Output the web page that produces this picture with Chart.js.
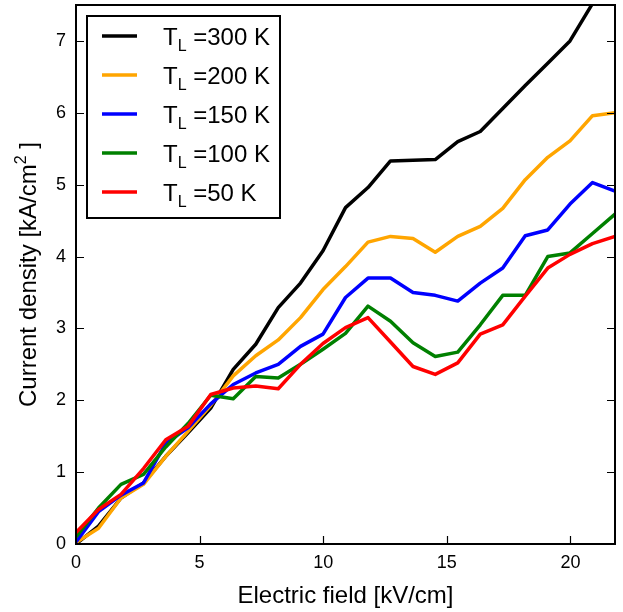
<!DOCTYPE html>
<html>
<head>
<meta charset="utf-8">
<script src="https://cdn.jsdelivr.net/npm/chart.js@4.4.0/dist/chart.umd.min.js"></script>
<style>
  html, body { margin: 0; padding: 0; background: #fff; }
  canvas { display: block; }
</style>
</head>
<body>
<canvas id="jeChart" width="623" height="612"></canvas>
<script>
// electric field [kV/cm]
const fields = [0, 0.91, 1.82, 2.73, 3.63, 4.54, 5.45, 6.36, 7.27, 8.18, 9.08, 9.99, 10.9,
  11.81, 12.72, 13.63, 14.53, 15.44, 16.35, 17.26, 18.17, 19.08, 19.98, 20.89, 21.8];

// lattice temperatures, one curve each
const temps = ['300', '200', '150', '100', '50'];

// current density [kA/cm2]
const j300 = [0, 0.25, 0.64, 0.85, 1.22, 1.55, 1.89, 2.43, 2.78, 3.29, 3.63, 4.08, 4.68,
  4.96, 5.33, 5.34, 5.35, 5.60, 5.74, 6.06, 6.38, 6.69, 7.0, 7.52, 8.1];
const j200 = [0.02, 0.22, 0.64, 0.83, 1.22, 1.57, 1.93, 2.34, 2.62, 2.84, 3.15, 3.54, 3.86,
  4.20, 4.28, 4.25, 4.06, 4.28, 4.42, 4.67, 5.07, 5.38, 5.61, 5.96, 6.0];
const j150 = [0.03, 0.45, 0.68, 0.85, 1.40, 1.62, 1.95, 2.22, 2.38, 2.50, 2.75, 2.92, 3.43,
  3.70, 3.70, 3.50, 3.46, 3.38, 3.63, 3.84, 4.29, 4.37, 4.73, 5.03, 4.91];
const j100 = [0.10, 0.50, 0.83, 0.97, 1.35, 1.68, 2.07, 2.02, 2.33, 2.31, 2.50, 2.71, 2.93,
  3.31, 3.10, 2.80, 2.61, 2.67, 3.05, 3.46, 3.46, 4.0, 4.05, 4.32, 4.59];
const j50 = [0.16, 0.48, 0.69, 1.05, 1.45, 1.64, 2.08, 2.17, 2.20, 2.16, 2.50, 2.79, 3.01,
  3.15, 2.81, 2.47, 2.36, 2.52, 2.92, 3.05, 3.45, 3.84, 4.03, 4.18, 4.28];

const xTicks = [0, 5, 10, 15, 20];
const yTicks = [0, 1, 2, 3, 4, 5, 6, 7];

const series = [j300, j200, j150, j100, j50];
const colors = ['#000000', '#ffa500', '#0000ff', '#008000', '#ff0000'];

const FONT = '"Liberation Sans", Arial, sans-serif';

// frame, inward ticks, legend with subscripts and axis titles
const decorPlugin = {
  id: 'decor',
  afterDraw(chart) {
    const { ctx, chartArea: a, scales: { x, y } } = chart;
    ctx.save();

    ctx.strokeStyle = '#000';
    ctx.lineWidth = 1.2;
    ctx.beginPath();
    x.ticks.forEach((t) => {
      const px = Math.round(x.getPixelForValue(t.value)) + 0.5;
      if (px <= a.left + 2) return;
      ctx.moveTo(px, a.bottom);
      ctx.lineTo(px, a.bottom - 8);
    });
    y.ticks.forEach((t) => {
      const py = Math.round(y.getPixelForValue(t.value)) + 0.5;
      if (py >= a.bottom - 2) return;
      ctx.moveTo(a.left, py);
      ctx.lineTo(a.left + 8, py);
      ctx.moveTo(a.right, py);
      ctx.lineTo(a.right - 8, py);
    });
    ctx.stroke();

    ctx.lineWidth = 2;
    ctx.strokeRect(a.left, a.top, a.right - a.left, a.bottom - a.top);

    // legend
    const lx = a.left + 11;
    const ly = a.top + 11;
    ctx.fillStyle = '#fff';
    ctx.fillRect(lx, ly, 193, 202);
    ctx.lineWidth = 2;
    ctx.strokeStyle = '#000';
    ctx.strokeRect(lx, ly, 193, 202);

    temps.forEach((temp, i) => {
      const ry = ly + 20 + i * 39;
      ctx.strokeStyle = colors[i];
      ctx.lineWidth = 3.5;
      ctx.beginPath();
      ctx.moveTo(lx + 15, ry);
      ctx.lineTo(lx + 50, ry);
      ctx.stroke();

      ctx.fillStyle = '#000';
      ctx.textAlign = 'left';
      ctx.textBaseline = 'alphabetic';
      let tx = lx + 76;
      ctx.font = '24px ' + FONT;
      ctx.fillText('T', tx, ry + 9);
      tx += ctx.measureText('T').width;
      ctx.font = '16px ' + FONT;
      ctx.fillText('L', tx, ry + 15);
      tx += ctx.measureText('L').width;
      ctx.font = '24px ' + FONT;
      ctx.fillText(' =' + temp + ' K', tx, ry + 9);
    });

    // x title
    ctx.fillStyle = '#000';
    ctx.font = '24px ' + FONT;
    ctx.textAlign = 'center';
    ctx.fillText('Electric field [kV/cm]', (a.left + a.right) / 2, 603);

    // y title with superscript
    const parts = [
      { s: 'Current density [kA/cm', f: '24px ', dy: 0 },
      { s: '2', f: '16px ', dy: -10 },
      { s: ' ]', f: '24px ', dy: 0 },
    ];
    let total = 0;
    parts.forEach((p) => {
      ctx.font = p.f + FONT;
      p.w = ctx.measureText(p.s).width;
      total += p.w;
    });
    ctx.translate(36, (a.top + a.bottom) / 2);
    ctx.rotate(-Math.PI / 2);
    ctx.textAlign = 'left';
    let px = -total / 2;
    parts.forEach((p) => {
      ctx.font = p.f + FONT;
      ctx.fillText(p.s, px, p.dy);
      px += p.w;
    });

    ctx.restore();
  },
};

const setTicks = (values) => (scale) => {
  scale.ticks = values.map((v) => ({ value: v }));
};

new Chart(document.getElementById('jeChart'), {
  type: 'line',
  data: {
    datasets: series.map((vals, i) => ({
      label: 'T_L =' + temps[i] + ' K',
      data: vals.map((v, k) => ({ x: fields[k], y: v })),
      borderColor: colors[i],
      borderWidth: 3.5,
      borderJoinStyle: 'round',
      pointRadius: 0,
      fill: false,
      tension: 0,
      order: series.length - i,
    })),
  },
  options: {
    responsive: false,
    animation: false,
    layout: { padding: { top: 5, right: 8, left: 0, bottom: 0 } },
    plugins: {
      legend: { display: false },
      tooltip: { enabled: false },
    },
    scales: {
      x: {
        type: 'linear',
        min: 0,
        max: 21.8,
        grid: { display: false, drawTicks: false },
        border: { display: false },
        ticks: {
          padding: 8,
          color: '#000',
          font: { family: FONT, size: 18 },
        },
        afterBuildTicks: setTicks(xTicks),
        afterFit: (scale) => {
          scale.height = 68;
          scale.paddingLeft = 0;
          scale.paddingRight = 0;
        },
      },
      y: {
        min: 0,
        max: 7.5,
        grid: { display: false, drawTicks: false },
        border: { display: false },
        ticks: {
          padding: 10,
          color: '#000',
          font: { family: FONT, size: 18 },
        },
        afterBuildTicks: setTicks(yTicks),
        afterFit: (scale) => {
          scale.width = 76;
          scale.paddingTop = 0;
          scale.paddingBottom = 0;
        },
      },
    },
  },
  plugins: [decorPlugin],
});
</script>
</body>
</html>
